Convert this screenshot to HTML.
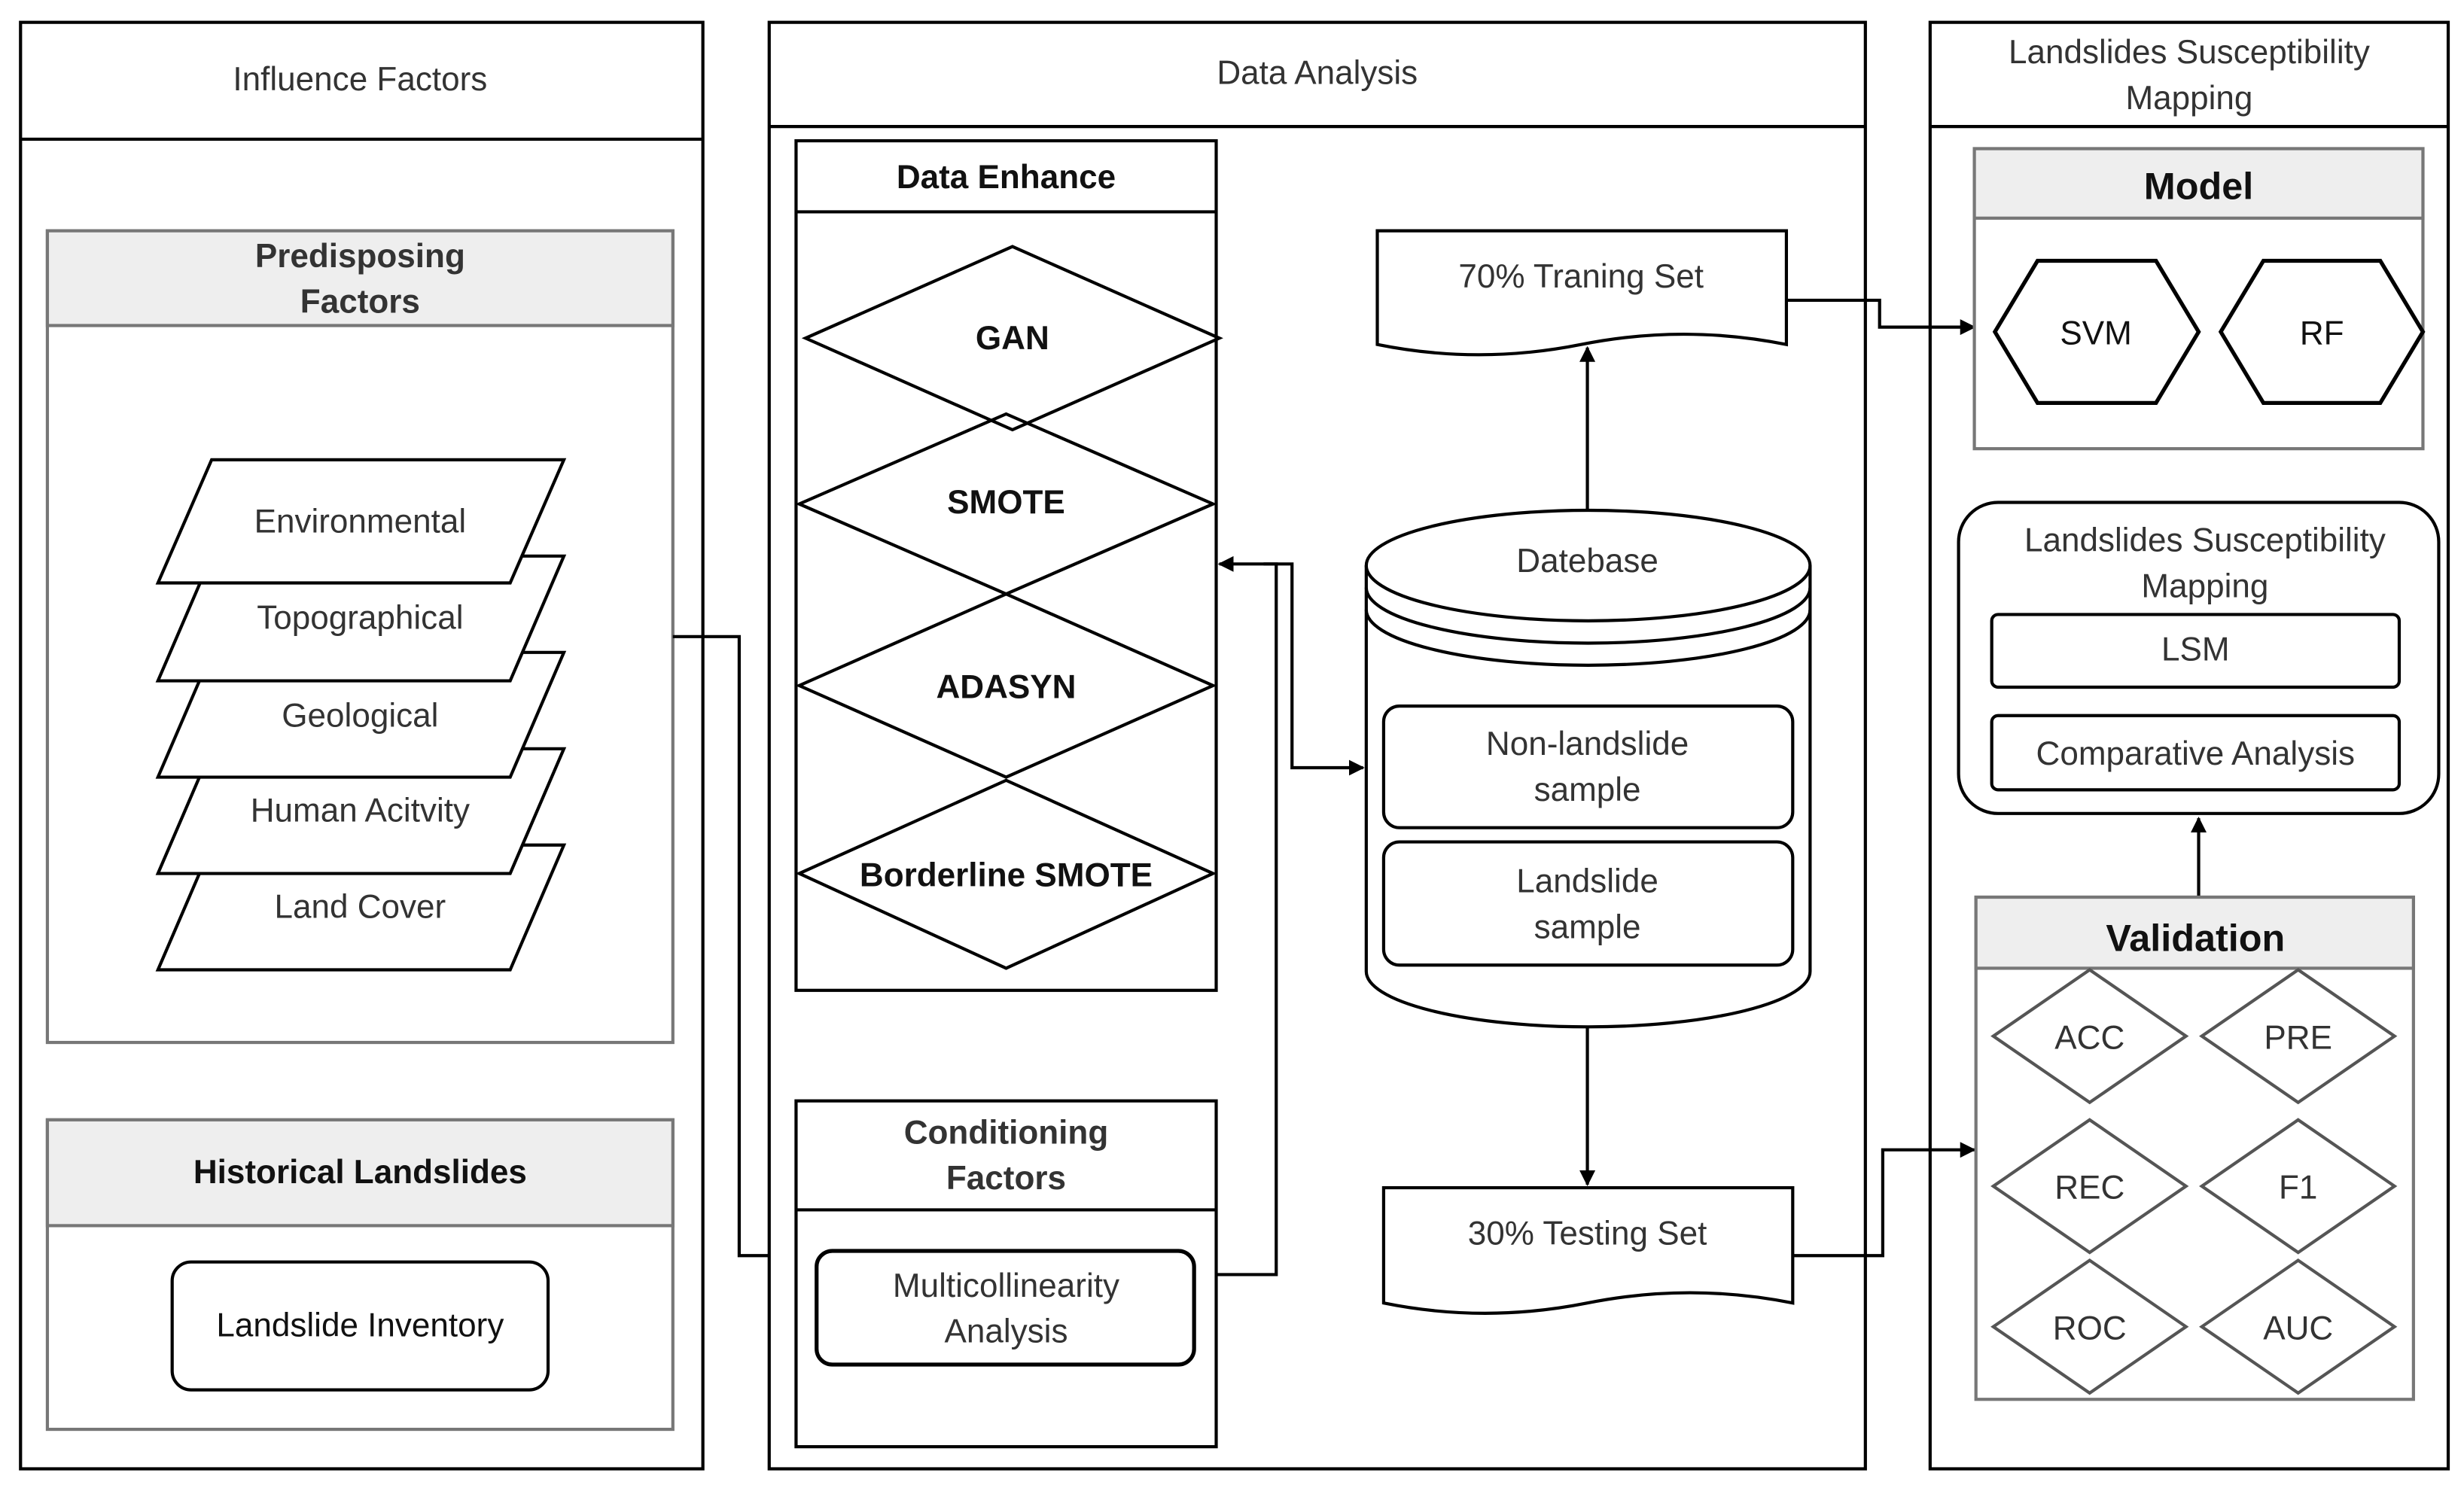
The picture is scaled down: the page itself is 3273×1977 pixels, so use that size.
<!DOCTYPE html>
<html><head><meta charset="utf-8"><style>html,body{margin:0;padding:0;background:#fff}svg{display:block}</style></head><body>
<svg width="3273" height="1977" viewBox="0 0 1560 942" xmlns="http://www.w3.org/2000/svg" font-family="Liberation Sans, sans-serif" font-size="21" fill="none" stroke="#000" stroke-width="2">
<defs><marker id="a" markerWidth="10" markerHeight="10" refX="9" refY="5" orient="auto" markerUnits="userSpaceOnUse"><path d="M0,0L10,5L0,10z" fill="#000" stroke="none"/></marker></defs>
<!-- panels -->
<rect x="13" y="14" width="432" height="916"/><line x1="13" y1="88" x2="445" y2="88"/>
<rect x="487" y="14" width="694" height="916"/><line x1="487" y1="80" x2="1181" y2="80"/>
<rect x="1222" y="14" width="328" height="916"/><line x1="1222" y1="80" x2="1550" y2="80"/>
<g fill="#333" stroke="none" text-anchor="middle">
<text x="228" y="57">Influence Factors</text>
<text x="834" y="53">Data Analysis</text>
<text x="1386" y="40">Landslides Susceptibility</text><text x="1386" y="69">Mapping</text>
</g>
<!-- predisposing -->
<rect x="30" y="146" width="396" height="514" stroke="#777"/><rect x="30" y="146" width="396" height="60" fill="#eee" stroke="#777"/>
<g fill="#fff">
<path d="M134,535H357L323,614H100Z"/>
<path d="M134,474H357L323,553H100Z"/>
<path d="M134,413H357L323,492H100Z"/>
<path d="M134,352H357L323,431H100Z"/>
<path d="M134,291H357L323,369H100Z"/>
</g>
<g fill="#333" stroke="none" text-anchor="middle">
<text x="228" y="169" font-weight="bold">Predisposing</text><text x="228" y="198" font-weight="bold">Factors</text>
<text x="228" y="337">Environmental</text><text x="228" y="398">Topographical</text><text x="228" y="460">Geological</text><text x="228" y="520">Human Acitvity</text><text x="228" y="581">Land Cover</text>
</g>
<rect x="30" y="709" width="396" height="196" stroke="#777"/><rect x="30" y="709" width="396" height="67" fill="#eee" stroke="#777"/>
<rect x="109" y="799" width="238" height="81" rx="12"/>
<g fill="#111" stroke="none" text-anchor="middle"><text x="228" y="749" font-weight="bold">Historical Landslides</text><text x="228" y="846">Landslide Inventory</text></g>
<!-- data enhance -->
<rect x="504" y="89" width="266" height="538"/><line x1="504" y1="134" x2="770" y2="134"/>
<path d="M641,156L772,214L641,272L510,214Z"/>
<path d="M637,262L768,319L637,376L506,319Z"/>
<path d="M637,376L768,434L637,492L506,434Z"/>
<path d="M637,494L768,553L637,613L506,553Z"/>
<g fill="#111" stroke="none" text-anchor="middle" font-weight="bold"><text x="637" y="119">Data Enhance</text><text x="641" y="221">GAN</text><text x="637" y="325">SMOTE</text><text x="637" y="442">ADASYN</text><text x="637" y="561">Borderline SMOTE</text></g>
<rect x="504" y="697" width="266" height="219"/><line x1="504" y1="766" x2="770" y2="766"/>
<rect x="517" y="792" width="239" height="72" rx="10" stroke-width="2.5"/>
<g fill="#333" stroke="none" text-anchor="middle"><text x="637" y="724" font-weight="bold">Conditioning</text><text x="637" y="753" font-weight="bold">Factors</text><text x="637" y="821">Multicollinearity</text><text x="637" y="850">Analysis</text></g>
<!-- cylinder -->
<path d="M865,358V615A140,35 0 0 0 1146,615V358" fill="#fff"/>
<ellipse cx="1005.5" cy="358" rx="140.5" ry="35"/>
<path d="M865,372A140,35 0 0 0 1146,372M865,386A140,35 0 0 0 1146,386"/>
<rect x="876" y="447" width="259" height="77" rx="10"/><rect x="876" y="533" width="259" height="78" rx="10"/>
<g fill="#333" stroke="none" text-anchor="middle"><text x="1005" y="362">Datebase</text><text x="1005" y="478">Non-landslide</text><text x="1005" y="507">sample</text><text x="1005" y="565">Landslide</text><text x="1005" y="594">sample</text></g>
<path d="M872,146H1131V218Q1066,205 1001,218T872,218Z"/>
<path d="M876,752H1135V825Q1070,812 1005,825T876,825Z"/>
<g fill="#333" stroke="none" text-anchor="middle"><text x="1001" y="182">70% Traning Set</text><text x="1005" y="788">30% Testing Set</text></g>
<line x1="1005" y1="323" x2="1005" y2="220" marker-end="url(#a)"/>
<line x1="1005" y1="650" x2="1005" y2="750" marker-end="url(#a)"/>
<!-- connectors -->
<path d="M426,403H468V795H487"/>
<path d="M770,807H808V357H772" marker-end="url(#a)"/>
<path d="M800,357H818V486H863" marker-end="url(#a)"/>
<path d="M1131,190H1190V207H1250" marker-end="url(#a)"/>
<path d="M1135,795H1192V728H1250" marker-end="url(#a)"/>
<line x1="1392" y1="568" x2="1392" y2="518" marker-end="url(#a)"/>
<!-- model -->
<rect x="1250" y="94" width="284" height="190" stroke="#777"/><rect x="1250" y="94" width="284" height="44" fill="#eee" stroke="#777"/>
<path d="M1263,210L1290,165H1365L1392,210L1365,255H1290Z" stroke-width="2.5"/>
<path d="M1406,210L1433,165H1507L1534,210L1507,255H1433Z" stroke-width="2.5"/>
<g fill="#111" stroke="none" text-anchor="middle"><text x="1392" y="126" font-weight="bold" font-size="24">Model</text><text x="1327" y="218">SVM</text><text x="1470" y="218">RF</text></g>
<!-- LSM -->
<rect x="1240" y="318" width="304" height="197" rx="25"/>
<rect x="1261" y="389" width="258" height="46" rx="4"/><rect x="1261" y="453" width="258" height="47" rx="4"/>
<g fill="#333" stroke="none" text-anchor="middle"><text x="1396" y="349">Landslides Susceptibility</text><text x="1396" y="378">Mapping</text><text x="1390" y="418">LSM</text><text x="1390" y="484">Comparative Analysis</text></g>
<!-- validation -->
<rect x="1251" y="568" width="277" height="318" stroke="#777"/><rect x="1251" y="568" width="277" height="45" fill="#eee" stroke="#777"/>
<g stroke="#555" stroke-width="2">
<path d="M1323,614L1384,656L1323,698L1262,656Z"/><path d="M1455,614L1516,656L1455,698L1394,656Z"/>
<path d="M1323,709L1384,751L1323,793L1262,751Z"/><path d="M1455,709L1516,751L1455,793L1394,751Z"/>
<path d="M1323,798L1384,840L1323,882L1262,840Z"/><path d="M1455,798L1516,840L1455,882L1394,840Z"/>
</g>
<g fill="#333" stroke="none" text-anchor="middle"><text x="1390" y="602" font-weight="bold" font-size="24" fill="#111">Validation</text>
<text x="1323" y="664">ACC</text><text x="1455" y="664">PRE</text><text x="1323" y="759">REC</text><text x="1455" y="759">F1</text><text x="1323" y="848">ROC</text><text x="1455" y="848">AUC</text></g>
</svg>
</body></html>
